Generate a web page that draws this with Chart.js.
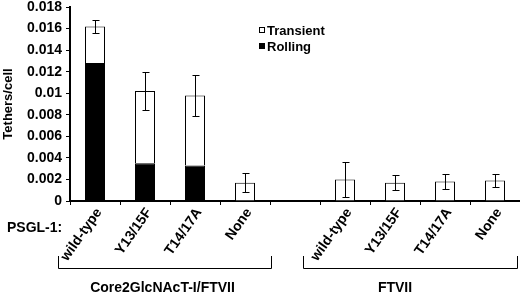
<!DOCTYPE html>
<html>
<head>
<meta charset="utf-8">
<script src="https://cdn.jsdelivr.net/npm/chart.js@4.4.1/dist/chart.umd.min.js"></script>
<style>
  html, body { margin: 0; padding: 0; background: #fff; }
  #wrap { width: 520px; height: 295px; }
</style>
</head>
<body>
<div id="wrap"><canvas id="chart" width="520" height="295"></canvas></div>
<script>
const categories = ['wild-type', 'Y13/15F', 'T14/17A', 'None', '', 'wild-type', 'Y13/15F', 'T14/17A', 'None'];
const rolling = [0.0128, 0.0035, 0.0033, 0, null, 0, 0, 0, 0];
const transient = [0.0034, 0.0067, 0.0065, 0.0017, null, 0.0020, 0.0017, 0.0018, 0.0019];
const errors = [0.0006, 0.0018, 0.0019, 0.0009, null, 0.0016, 0.0007, 0.0007, 0.0006];
const groups = [
  { label: 'Core2GlcNAcT-I/FTVII', from: -0.74, to: 3.54, labelAt: 1.35 },
  { label: 'FTVII', from: 4.16, to: 8.46, labelAt: 6 },
];
const rowLabel = 'PSGL-1:';

const FONT = '"Liberation Sans", Arial, sans-serif';

// error bars on top of the stacked total
const errorBars = {
  id: 'errorBars',
  afterDatasetsDraw(chart) {
    const { ctx, scales: { x, y } } = chart;
    ctx.save();
    ctx.strokeStyle = '#000';
    ctx.lineWidth = 1;
    errors.forEach((err, i) => {
      if (err == null) return;
      const total = (rolling[i] || 0) + (transient[i] || 0);
      const cx = Math.round(x.getPixelForValue(i)) + 0.5;
      const top = Math.round(y.getPixelForValue(total + err)) + 0.5;
      const bot = Math.round(y.getPixelForValue(Math.max(total - err, 0))) + 0.5;
      ctx.beginPath();
      ctx.moveTo(cx, top);
      ctx.lineTo(cx, bot);
      ctx.moveTo(cx - 3, top);
      ctx.lineTo(cx + 4, top);
      ctx.moveTo(cx - 3, bot);
      ctx.lineTo(cx + 4, bot);
      ctx.stroke();
    });
    ctx.restore();
  },
};

// legend, row label, group brackets
const decorations = {
  id: 'decorations',
  afterDraw(chart) {
    const { ctx, scales: { x } } = chart;
    ctx.save();
    ctx.fillStyle = '#000';
    ctx.strokeStyle = '#000';
    ctx.lineWidth = 1;

    // legend (top entry = upper stack part)
    const items = chart.data.datasets.slice().reverse();
    items.forEach((ds, k) => {
      const yc = 30 + k * 16;
      ctx.fillStyle = ds.backgroundColor;
      ctx.fillRect(259.5, yc - 2.5, 5, 5);
      ctx.strokeRect(259.5, yc - 2.5, 5, 5);
      ctx.fillStyle = '#000';
      ctx.font = 'bold 13px ' + FONT;
      ctx.textAlign = 'left';
      ctx.textBaseline = 'middle';
      ctx.fillText(ds.label, 267, yc + 1);
    });

    ctx.font = 'bold 14px ' + FONT;
    ctx.textAlign = 'left';
    ctx.textBaseline = 'middle';
    ctx.fillText(rowLabel, 7, 228);

    groups.forEach((g) => {
      const x0 = Math.round(x.getPixelForValue(g.from)) + 0.5;
      const x1 = Math.round(x.getPixelForValue(g.to)) - 0.5;
      ctx.beginPath();
      ctx.moveTo(x0, 256);
      ctx.lineTo(x0, 268.5);
      ctx.lineTo(x1, 268.5);
      ctx.lineTo(x1, 256);
      ctx.stroke();
      ctx.textAlign = 'center';
      ctx.fillText(g.label, x.getPixelForValue(g.labelAt), 288);
    });
    ctx.restore();
  },
};

new Chart(document.getElementById('chart'), {
  type: 'bar',
  data: {
    labels: categories,
    datasets: [
      {
        label: 'Rolling',
        data: rolling,
        backgroundColor: '#000',
        borderColor: '#000',
        borderWidth: 1,
        borderSkipped: 'start',
      },
      {
        label: 'Transient',
        data: transient,
        backgroundColor: '#fff',
        borderColor: '#000',
        borderWidth: 1,
        borderSkipped: 'start',
      },
    ],
  },
  options: {
    responsive: false,
    animation: false,
    datasets: {
      bar: { categoryPercentage: 1, barPercentage: 0.4 },
    },
    plugins: {
      legend: { display: false },
      tooltip: { enabled: false },
    },
    scales: {
      x: {
        stacked: true,
        afterFit(scale) { scale.height = 94; },
        border: { display: true, color: '#000', width: 2 },
        grid: {
          offset: true,
          drawOnChartArea: false,
          tickLength: 4,
          color: '#000',
        },
        ticks: {
          autoSkip: false,
          minRotation: 55,
          maxRotation: 55,
          padding: 0,
          labelOffset: 4,
          color: '#000',
          font: { family: FONT, size: 14, weight: 'bold' },
        },
      },
      y: {
        stacked: true,
        min: 0,
        max: 0.018,
        afterFit(scale) {
          scale.width = 70;
          scale.paddingTop = 7;
        },
        border: { display: true, color: '#000', width: 2 },
        grid: {
          drawOnChartArea: false,
          tickLength: 4,
          color: '#000',
        },
        ticks: {
          stepSize: 0.002,
          padding: 4,
          color: '#000',
          font: { family: FONT, size: 14, weight: 'bold' },
          callback: (v) => String(+Number(v).toFixed(3)),
        },
        title: {
          display: true,
          text: 'Tethers/cell',
          color: '#000',
          padding: { top: 1, bottom: 0 },
          font: { family: FONT, size: 13, weight: 'bold' },
        },
      },
    },
  },
  plugins: [errorBars, decorations],
});
</script>
</body>
</html>
